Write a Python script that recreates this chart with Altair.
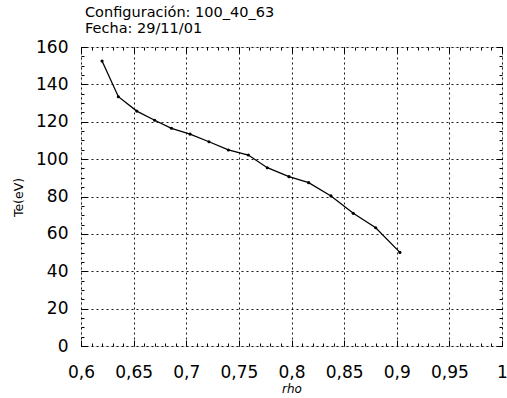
import altair as alt
import pandas as pd

rho = [0.620, 0.6355, 0.653, 0.670, 0.686, 0.7036, 0.7216, 0.740, 0.759, 0.777,
       0.7976, 0.8163, 0.8375, 0.8587, 0.880, 0.903]
te = [152.5, 133.4, 125.7, 120.8, 116.5, 113.4, 109.3, 104.9, 102.2, 95.4,
      90.6, 87.4, 80.3, 71.0, 63.3, 50.1]

x_major = [0.6, 0.65, 0.7, 0.75, 0.8, 0.85, 0.9, 0.95, 1.0]
x_minor = [round(0.6 + 0.01 * i, 2) for i in range(41)]
y_major = [0, 20, 40, 60, 80, 100, 120, 140, 160]
y_minor = [5 * i for i in range(33)]

df = pd.DataFrame({"rho": rho, "te": te})

FONT = "DejaVu Sans"
xs = alt.Scale(domain=[0.6, 1.0], nice=False, zero=False)
ys = alt.Scale(domain=[0, 160], nice=False, zero=False)
label_expr = "replace(format(datum.value, '.2~f'), '.', ',')"

base = alt.Chart(df)

main_line = base.mark_line(color="black", strokeWidth=1.3).encode(
    x=alt.X("rho:Q", scale=xs, axis=alt.Axis(
        orient="bottom", values=x_major, labelExpr=label_expr, ticks=False,
        domain=False, grid=True, gridColor="black", gridDash=[2, 3],
        gridWidth=1, gridOpacity=0.9, labelFont=FONT, labelFontSize=17,
        labelColor="black", labelPadding=18, labelFlush=False,
        labelOverlap=False, title="rho", titleFont=FONT,
        titleFontSize=12, titleFontStyle="italic", titleFontWeight="normal",
        titleColor="black", titleY=42, titleBaseline="middle")),
    y=alt.Y("te:Q", scale=ys, axis=alt.Axis(
        orient="left", values=y_major, ticks=False, domain=False, grid=True,
        gridColor="black", gridDash=[2, 3], gridWidth=1, gridOpacity=0.9,
        labelFont=FONT, labelFontSize=17, labelColor="black", labelPadding=13,
        labelFlush=False, labelOverlap=False,
        title="Te(eV)", titleFont=FONT, titleFontSize=12.5,
        titleFontWeight="normal", titleColor="black", titleX=-63, titleY=150,
        titleAngle=270, titleAlign="center", titleBaseline="middle")),
)


def tick_axis(orient, values, size):
    return alt.Axis(orient=orient, values=values, labels=False, domain=False,
                    grid=False, ticks=True, tickSize=size, tickColor="black",
                    tickWidth=1, offset=-size, title=None)


def tick_layer(xo, yo, xv, yv, size, visible=False):
    mk = base.mark_point(filled=True, color="black", size=10,
                         opacity=1 if visible else 0)
    return mk.encode(
        x=alt.X("rho:Q", scale=xs, axis=tick_axis(xo, xv, size)),
        y=alt.Y("te:Q", scale=ys, axis=tick_axis(yo, yv, size)),
    )


layers = [
    main_line,
    tick_layer("bottom", "left", x_minor, y_minor, 3, visible=True),
    tick_layer("top", "right", x_minor, y_minor, 3),
    tick_layer("bottom", "left", x_major, y_major, 6),
    tick_layer("top", "right", x_major, y_major, 6),
]

chart = alt.layer(*layers).resolve_axis(x="independent", y="independent").properties(
    width=421, height=299,
    autosize=alt.AutoSizeParams(type="none"),
    padding={"left": 81, "top": 47, "right": 5, "bottom": 52},
    title=alt.Title(["Configuración: 100_40_63", "Fecha: 29/11/01"],
                    anchor="start", frame="group", font=FONT, fontSize=14.5,
                    fontWeight="normal", color="black", lineHeight=16, dx=4,
                    offset=2),
).configure_view(stroke="black", strokeWidth=1.2).configure(background="white")

chart.save("out.html", embed_options={"renderer": "svg", "actions": False})
